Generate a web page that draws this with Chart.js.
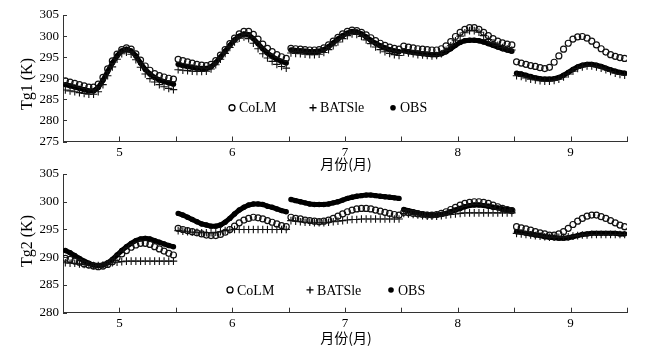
<!DOCTYPE html>
<html>
<head>
<meta charset="utf-8">
<script src="https://cdn.jsdelivr.net/npm/chart.js@4.4.0/dist/chart.umd.min.js"></script>
<style>
  html, body { margin: 0; padding: 0; background: #ffffff; }
  #wrap { position: relative; width: 655px; height: 355px; overflow: hidden; }
  #wrap canvas { position: absolute; left: 0; top: 0; }
</style>
</head>
<body>
<div id="wrap">
  <canvas id="c1" width="655" height="355"></canvas>
  <canvas id="c2" width="655" height="355"></canvas>
</div>
<script>
// ---------------- DATA ----------------
const months = [5, 6, 7, 8, 9];
const hours = [0,1,2,3,4,5,6,7,8,9,10,11,12,13,14,15,16,17,18,19,20,21,22,23];
const seriesNames = ['CoLM', 'BATSle', 'OBS'];
const xTickLabels = ['5', '6', '7', '8', '9'];
const axisTitleX = '月份(月)';
const panelTitles = ['Tg1 (K)', 'Tg2 (K)'];

// Tg1 (upper panel) : one row of 24 hourly values per month (May..Sep)
const tg1CoLM = [
  [289.4,289.1,288.8,288.5,288.2,287.9,287.9,288.6,290.2,292.2,294.1,295.7,296.8,297.2,296.9,295.8,294.3,292.9,291.9,291.1,290.6,290.3,290.0,289.8],
  [294.5,294.2,293.9,293.6,293.3,293.1,293.0,293.3,294.2,295.5,296.8,298.2,299.5,300.5,301.1,301.1,300.4,299.3,298.1,297.1,296.3,295.6,295.1,294.7],
  [297.1,297.0,296.9,296.8,296.7,296.7,296.8,297.2,297.9,298.8,299.7,300.5,301.1,301.4,301.3,300.9,300.3,299.6,298.9,298.3,297.8,297.4,297.1,296.9],
  [297.6,297.4,297.2,297.0,296.9,296.8,296.7,296.7,297.0,297.7,298.7,299.9,300.9,301.6,302.0,302.0,301.6,300.9,300.1,299.4,298.8,298.4,298.1,297.9],
  [293.9,293.6,293.3,293.0,292.8,292.5,292.3,292.6,293.8,295.3,296.9,298.3,299.3,299.8,299.9,299.5,298.8,297.9,297.0,296.2,295.6,295.2,294.9,294.7]
];
const tg1BATS = [
  [287.2,287.0,286.8,286.6,286.4,286.2,286.2,286.8,288.5,290.6,292.7,294.5,295.8,296.2,295.7,294.4,292.6,291.0,289.9,289.1,288.5,288.0,287.6,287.3],
  [292.0,291.9,291.8,291.7,291.6,291.6,291.7,292.2,293.2,294.5,295.9,297.3,298.6,299.5,299.8,299.4,298.3,297.0,295.8,294.8,294.0,293.3,292.8,292.4],
  [296.0,295.9,295.8,295.7,295.6,295.6,295.7,296.1,296.8,297.7,298.6,299.4,300.1,300.5,300.4,299.9,299.1,298.2,297.4,296.8,296.3,295.9,295.6,295.4],
  [296.2,296.0,295.8,295.6,295.5,295.4,295.3,295.4,295.8,296.6,297.7,298.9,300.0,300.8,301.3,301.3,300.9,300.1,299.2,298.4,297.8,297.3,297.0,296.7],
  [290.6,290.4,290.1,289.8,289.6,289.4,289.3,289.3,289.5,289.8,290.3,291.0,291.7,292.3,292.7,292.9,292.9,292.7,292.4,292.0,291.6,291.2,290.9,290.7]
];
const tg1OBS = [
  [288.5,288.2,287.9,287.6,287.3,287.0,287.0,287.8,289.5,291.6,293.6,295.3,296.5,296.9,296.5,295.3,293.6,292.1,291.0,290.2,289.6,289.2,288.9,288.6],
  [293.3,293.0,292.8,292.6,292.4,292.3,292.3,292.7,293.7,295.0,296.4,297.8,299.1,300.0,300.5,300.3,299.4,298.2,297.0,296.0,295.2,294.5,294.0,293.6],
  [296.7,296.6,296.5,296.4,296.3,296.3,296.4,296.8,297.5,298.4,299.3,300.1,300.7,301.1,301.0,300.5,299.8,299.0,298.3,297.7,297.2,296.8,296.5,296.3],
  [296.5,296.3,296.1,296.0,295.8,295.7,295.6,295.6,295.8,296.3,297.0,297.8,298.5,298.9,299.0,299.0,298.9,298.6,298.2,297.8,297.4,297.0,296.7,296.4],
  [291.2,291.0,290.7,290.4,290.1,289.9,289.8,289.8,289.9,290.2,290.7,291.4,292.1,292.7,293.1,293.3,293.3,293.1,292.8,292.4,292.0,291.7,291.4,291.2]
];

// Tg2 (lower panel)
const tg2CoLM = [
  [289.8,289.6,289.3,289.1,288.8,288.6,288.4,288.3,288.4,288.7,289.2,289.9,290.6,291.2,291.8,292.2,292.5,292.5,292.3,291.9,291.5,291.1,290.7,290.4],
  [295.2,295.0,294.8,294.6,294.4,294.2,294.0,293.9,293.9,294.1,294.5,295.0,295.6,296.2,296.7,297.0,297.2,297.1,296.9,296.6,296.3,296.0,295.7,295.5],
  [297.2,297.0,296.9,296.7,296.6,296.5,296.4,296.5,296.7,297.0,297.4,297.8,298.2,298.5,298.7,298.8,298.8,298.7,298.5,298.3,298.1,297.9,297.7,297.6],
  [298.1,298.0,297.9,297.8,297.7,297.6,297.6,297.7,297.9,298.2,298.6,299.0,299.4,299.7,299.9,300.0,300.0,299.9,299.7,299.4,299.1,298.8,298.6,298.4],
  [295.5,295.3,295.1,294.9,294.6,294.4,294.2,294.0,294.0,294.2,294.6,295.2,295.9,296.5,297.0,297.4,297.6,297.6,297.3,297.0,296.6,296.2,295.8,295.5]
];
const tg2BATS = [
  [289.0,288.9,288.9,288.8,288.7,288.6,288.5,288.5,288.6,288.8,289.0,289.1,289.2,289.3,289.3,289.3,289.3,289.3,289.3,289.3,289.3,289.3,289.3,289.3],
  [294.8,294.7,294.6,294.5,294.5,294.4,294.4,294.4,294.5,294.6,294.8,294.9,295.0,295.0,295.0,295.0,295.0,295.0,295.0,295.0,295.0,295.0,295.0,295.0],
  [296.6,296.5,296.4,296.3,296.3,296.2,296.2,296.2,296.3,296.4,296.5,296.6,296.7,296.8,296.8,296.9,296.9,296.9,296.9,296.9,296.9,296.9,296.9,296.9],
  [297.9,297.8,297.7,297.6,297.5,297.4,297.4,297.4,297.5,297.6,297.7,297.8,297.9,298.0,298.0,298.0,298.0,298.0,298.0,298.0,298.0,298.0,298.0,298.0],
  [294.3,294.2,294.1,294.0,293.9,293.8,293.7,293.6,293.6,293.6,293.6,293.7,293.8,293.9,294.0,294.0,294.1,294.1,294.1,294.1,294.1,294.1,294.1,294.1]
];
const tg2OBS = [
  [291.2,290.8,290.3,289.8,289.3,288.9,288.6,288.5,288.6,289.0,289.6,290.4,291.2,291.9,292.5,293.0,293.3,293.4,293.3,293.0,292.7,292.4,292.1,291.9],
  [297.9,297.6,297.2,296.8,296.4,296.0,295.8,295.6,295.6,295.8,296.3,297.0,297.8,298.5,299.0,299.4,299.6,299.6,299.5,299.2,299.0,298.7,298.4,298.2],
  [300.4,300.2,300.0,299.8,299.6,299.5,299.5,299.5,299.6,299.8,300.0,300.3,300.6,300.8,301.0,301.1,301.2,301.2,301.1,301.0,300.9,300.8,300.7,300.6],
  [298.6,298.4,298.2,298.0,297.8,297.7,297.6,297.6,297.7,297.9,298.2,298.5,298.8,299.1,299.3,299.4,299.4,299.3,299.2,299.0,298.9,298.7,298.6,298.5],
  [294.6,294.5,294.3,294.2,294.0,293.9,293.7,293.6,293.5,293.4,293.4,293.5,293.7,293.9,294.1,294.2,294.3,294.3,294.3,294.3,294.3,294.3,294.2,294.2]
];

// ---------------- BUILD ----------------
function toPoints(monthly, withGaps) {
  const pts = [];
  months.forEach((m, i) => {
    hours.forEach(h => pts.push({ x: m - 0.5 + (h + 0.5) / 24, y: monthly[i][h] }));
    if (withGaps) pts.push({ x: m + 0.5, y: null });
  });
  return pts;
}

const SERIF = "'Liberation Serif', 'DejaVu Serif', serif";
const CJK = "'Noto Sans CJK SC', 'Noto Sans', sans-serif";
const AXIS = '#333333';

function drawMarker(ctx, type, x, y) {
  ctx.save();
  ctx.strokeStyle = '#000';
  ctx.fillStyle = '#000';
  ctx.lineWidth = 1.3;
  if (type === 0) {
    ctx.beginPath(); ctx.arc(x, y, 3, 0, Math.PI * 2); ctx.stroke();
  } else if (type === 1) {
    ctx.beginPath(); ctx.moveTo(x - 3.5, y); ctx.lineTo(x + 3.5, y);
    ctx.moveTo(x, y - 3.5); ctx.lineTo(x, y + 3.5); ctx.stroke();
  } else {
    ctx.beginPath(); ctx.arc(x, y, 2.8, 0, Math.PI * 2); ctx.fill();
  }
  ctx.restore();
}

function makeChart(canvasId, cfg) {
  const decor = {
    id: 'decor',
    afterDraw(chart) {
      const ctx = chart.ctx;
      const xs = chart.scales.x, ys = chart.scales.y;
      const a = chart.chartArea;
      ctx.save();
      ctx.strokeStyle = AXIS;
      ctx.lineWidth = 1;
      // inward tick marks
      ys.ticks.forEach(t => {
        const y = Math.round(ys.getPixelForValue(t.value)) + 0.5;
        ctx.beginPath(); ctx.moveTo(a.left, y); ctx.lineTo(a.left + 4, y); ctx.stroke();
      });
      xs.ticks.forEach(t => {
        const x = Math.round(xs.getPixelForValue(t.value)) + 0.5;
        ctx.beginPath(); ctx.moveTo(x, a.bottom); ctx.lineTo(x, a.bottom - 5); ctx.stroke();
      });
      // y title
      ctx.fillStyle = '#000';
      ctx.font = '16px ' + SERIF;
      ctx.textAlign = 'center';
      ctx.textBaseline = 'middle';
      ctx.save();
      ctx.translate(28, cfg.yTitleY);
      ctx.rotate(-Math.PI / 2);
      ctx.fillText(cfg.yTitle, 0, 0);
      ctx.restore();
      // x title
      ctx.font = '14px ' + CJK;
      ctx.fillText(axisTitleX, 346, cfg.xTitleY);
      // legend (inside plot)
      const ly = ys.getPixelForValue(cfg.legendValue);
      const lx = cfg.legendX;
      ctx.font = '14px ' + SERIF;
      ctx.textAlign = 'left';
      seriesNames.forEach((n, i) => {
        drawMarker(ctx, i, lx[i], ly);
        ctx.fillText(n, lx[i] + 7, ly + 1);
      });
      ctx.restore();
    }
  };

  return new Chart(document.getElementById(canvasId), {
    type: 'scatter',
    data: {
      datasets: [
        { label: seriesNames[0], data: toPoints(cfg.colm, false), pointStyle: 'circle', pointRadius: 3,
          borderColor: '#111', backgroundColor: 'rgba(255,255,255,0)', pointBorderWidth: 1.2, showLine: false },
        { label: seriesNames[1], data: toPoints(cfg.bats, false), pointStyle: 'cross', pointRadius: 3.8,
          borderColor: '#111', backgroundColor: '#111', pointBorderWidth: 1.1, showLine: false },
        { label: seriesNames[2], data: toPoints(cfg.obs, true), pointStyle: 'circle', pointRadius: 2.7,
          borderColor: '#000', backgroundColor: '#000', pointBorderWidth: 0, showLine: true, borderWidth: 5, spanGaps: false }
      ]
    },
    options: {
      responsive: false,
      animation: false,
      events: [],
      layout: { padding: { top: cfg.padTop, right: 28, left: 0, bottom: 0 } },
      plugins: { legend: { display: false }, tooltip: { enabled: false } },
      scales: {
        x: {
          type: 'linear', min: 4.5, max: 9.5,
          grid: { display: false, drawTicks: false },
          border: { display: true, color: AXIS, width: 1 },
          afterBuildTicks: (s) => { s.ticks = []; for (let v = 4.5; v <= 9.51; v += 0.5) s.ticks.push({ value: v }); },
          afterFit: (s) => { s.height = cfg.xHeight; },
          ticks: {
            autoSkip: false, maxRotation: 0, padding: 3, color: '#000',
            font: { family: SERIF, size: 13 },
            callback: (v) => { const i = months.indexOf(v); return i >= 0 ? xTickLabels[i] : ''; }
          }
        },
        y: {
          min: cfg.yMin, max: 305,
          grid: { display: false, drawTicks: false },
          border: { display: true, color: AXIS, width: 1 },
          afterFit: (s) => { s.width = 63; },
          ticks: { stepSize: 5, padding: 4, color: '#000', font: { family: SERIF, size: 13 } }
        }
      }
    },
    plugins: [decor]
  });
}

makeChart('c1', {
  colm: tg1CoLM, bats: tg1BATS, obs: tg1OBS,
  yMin: 275, padTop: 15, xHeight: 213.5, yTitle: panelTitles[0], yTitleY: 84,
  xTitleY: 164, legendValue: 283, legendX: [232, 313, 393]
});
makeChart('c2', {
  colm: tg2CoLM, bats: tg2BATS, obs: tg2OBS,
  yMin: 280, padTop: 174, xHeight: 42.3, yTitle: panelTitles[1], yTitleY: 241,
  xTitleY: 338, legendValue: 284.1, legendX: [230, 310, 391]
});
</script>
</body>
</html>
